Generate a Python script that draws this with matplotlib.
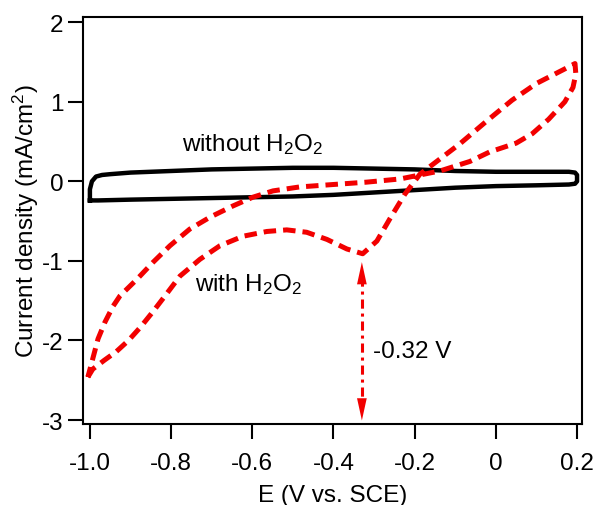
import matplotlib
matplotlib.use('Agg')
import matplotlib.pyplot as plt

plt.rcParams['font.family'] = ['Liberation Sans', 'DejaVu Sans']
plt.rcParams['mathtext.fontset'] = 'custom'
plt.rcParams['mathtext.rm'] = 'Liberation Sans'
plt.rcParams['axes.unicode_minus'] = False

# without H2O2 (closed loop, black)
e_blank = [-1.0, -1.0, -0.995, -0.985, -0.97, -0.95, -0.9, -0.8, -0.7, -0.6, -0.5,
           -0.4, -0.3, -0.2, -0.1, 0.0, 0.1, 0.18, 0.195, 0.2, 0.2, 0.195, 0.18,
           0.1, 0.0, -0.1, -0.2, -0.3, -0.4, -0.5, -0.6, -0.7, -0.8, -0.9, -0.98, -1.0]
j_blank = [-0.24, -0.1, 0.0, 0.06, 0.08, 0.09, 0.11, 0.13, 0.15, 0.16, 0.17,
           0.17, 0.16, 0.15, 0.13, 0.12, 0.12, 0.12, 0.11, 0.08, 0.0, -0.03, -0.04,
           -0.05, -0.06, -0.08, -0.11, -0.14, -0.17, -0.19, -0.2, -0.21, -0.22, -0.23, -0.24, -0.24]

# with H2O2 (closed loop, red dashed)
e_h2o2 = [-1.005, -0.993, -0.965, -0.935, -0.905, -0.875, -0.845, -0.815, -0.778, -0.729, -0.680,
          -0.623, -0.564, -0.515, -0.466, -0.416, -0.367, -0.328, -0.293, -0.261, -0.224,
          -0.187, -0.138, -0.089, -0.022, 0.04, 0.10, 0.165, 0.195,
          0.197, 0.19, 0.17, 0.13, 0.09, 0.05, -0.015, -0.064, -0.138, -0.236, -0.318,
          -0.401, -0.483, -0.549, -0.599, -0.648, -0.704, -0.754, -0.803, -0.845, -0.884,
          -0.926, -0.943, -0.963, -0.980, -0.993, -1.005]
j_h2o2 = [-2.46, -2.36, -2.25, -2.14, -2.0, -1.83, -1.64, -1.44, -1.19, -0.98, -0.81,
          -0.69, -0.63, -0.61, -0.64, -0.73, -0.85, -0.91, -0.75, -0.47, -0.16,
          0.09, 0.28, 0.47, 0.76, 1.02, 1.23, 1.40, 1.48,
          1.35, 1.18, 1.0, 0.78, 0.6, 0.48, 0.37, 0.25, 0.13, 0.03, -0.01,
          -0.04, -0.07, -0.12, -0.20, -0.31, -0.45, -0.60, -0.81, -1.02, -1.23,
          -1.44, -1.57, -1.77, -1.98, -2.23, -2.46]

peak_e = -0.33
peak_j = -0.95
xticks = [-1.0, -0.8, -0.6, -0.4, -0.2, 0.0, 0.2]
xticklabels = ['-1.0', '-0.8', '-0.6', '-0.4', '-0.2', '0', '0.2']
yticks = [-3, -2, -1, 0, 1, 2]

red = '#f20000'
fs = 17.5

fig = plt.figure(figsize=(5.95, 5.06), dpi=100)
ax = fig.add_axes([0.1395, 0.160, 0.8385, 0.8044])

ax.plot(e_blank, j_blank, color='black', lw=3.2, solid_joinstyle='round')
ax.plot(e_h2o2, j_h2o2, color=red, lw=3.6, linestyle=(0, (2.5, 1.4)))

# arrow marking the peak potential
ax.plot([peak_e, peak_e], [peak_j - 0.25, -2.75], color=red, lw=2.2,
        linestyle=(0, (3, 1.6, 1, 1.6)))
ax.annotate('', xy=(peak_e, peak_j - 0.03), xytext=(peak_e, peak_j - 0.3),
            arrowprops=dict(arrowstyle='-|>,head_length=1.6,head_width=0.35',
                            color=red, lw=0))
ax.annotate('', xy=(peak_e, -3.04), xytext=(peak_e, -2.75),
            arrowprops=dict(arrowstyle='-|>,head_length=1.6,head_width=0.35',
                            color=red, lw=0))

ax.text(-0.303, -2.13, '-0.32 V', fontsize=fs, va='center', ha='left')
ax.text(-0.773, 0.47, r'without H$\mathregular{_2}$O$\mathregular{_2}$', fontsize=fs,
        va='center', ha='left')
ax.text(-0.741, -1.29, r'with H$\mathregular{_2}$O$\mathregular{_2}$', fontsize=fs,
        va='center', ha='left')

ax.set_xlim(-1.017, 0.212)
ax.set_ylim(-3.05, 2.065)
ax.set_xticks(xticks)
ax.set_xticklabels(xticklabels)
ax.set_yticks(yticks)
ax.tick_params(direction='out', length=11, width=1.5, labelsize=fs, top=False, right=False)
ax.tick_params(axis='x', pad=9)
ax.tick_params(axis='y', pad=3)
for s in ax.spines.values():
    s.set_linewidth(1.5)

ax.set_xlabel('E (V vs. SCE)', fontsize=fs, labelpad=7)
ax.set_ylabel(r'Current density (mA/cm$\mathregular{^2}$)', fontsize=fs, labelpad=1)

fig.savefig('out.png', dpi=100)
